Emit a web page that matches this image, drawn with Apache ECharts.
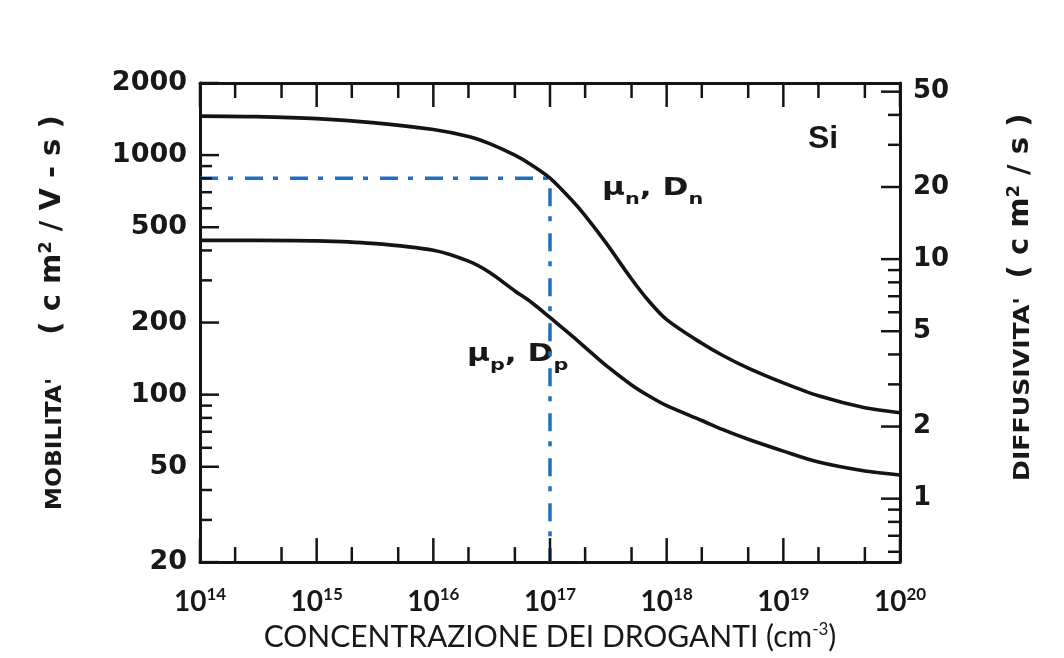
<!DOCTYPE html>
<html>
<head>
<meta charset="utf-8">
<script src="https://cdn.jsdelivr.net/npm/echarts@6/dist/echarts.min.js"></script>
<style>
html,body{margin:0;padding:0;background:#ffffff;}
#chart{width:1064px;height:658px;}
</style>
</head>
<body>
<div id="chart"></div>
<script>
// ---- data ----
const concentration = [1e14, 3e14, 1e15, 3e15, 1e16, 2e16, 3e16, 5e16, 7e16, 1e17, 1.5e17, 2e17, 3e17, 5e17, 7e17, 1e18, 2e18, 3e18, 5e18, 1e19, 2e19, 5e19, 1e20];
const muN = [1455, 1447, 1420, 1367, 1279, 1196, 1119, 999, 908, 802, 657, 559, 432, 304, 246.5, 205.8, 163.8, 146.1, 129.1, 112, 98.9, 88.2, 84.1];
const muP = [440.6, 440.6, 438.5, 428, 400.6, 360.8, 325, 271, 242, 210, 178, 157.6, 132.8, 109.8, 98.9, 89.9, 78.0, 71.6, 65.1, 58.1, 52.3, 48.0, 46.2];

// guide (dash-dot) at N = 1e17, mu = 800
const guideConcentration = [1e17];
const guideMobility = [800];

// axis ranges
const concRange = [1e14, 1e20];
const muRange = [20, 2000];
const muPerD = 36.8; // mobility / diffusivity ratio of the right scale
const dRange = [muRange[0] / muPerD, muRange[1] / muPerD];

// tick labels and tick marks
const muLabels = [20, 50, 100, 200, 500, 1000, 2000];
const muMinor = [30, 40, 60, 70, 80, 90, 300, 400, 600, 700, 800, 900];
const dLabels = [1, 2, 5, 10, 20, 50];
const dMinor = [0.6, 0.7, 0.8, 0.9, 3, 4, 6, 7, 8, 9, 30, 40];
const concMajor = [1e14, 1e15, 1e16, 1e17, 1e18, 1e19, 1e20];
const concMinor = [2e14, 5e14, 2e15, 5e15, 2e16, 5e16, 2e17, 5e17, 2e18, 5e18, 2e19, 5e19];

// ---- chart ----
const chart = echarts.init(document.getElementById('chart'));
const INK = '#141414';
const TXT = '#181818';

function tickSeries(data, yAxisIndex, dx, dy, majorLen, minorLen) {
  return {
    type: 'custom', xAxisIndex: 0, yAxisIndex: yAxisIndex, silent: true, z: 6, clip: false,
    animation: false,
    data: data,
    renderItem: function (params, api) {
      const p = api.coord([api.value(0), api.value(1)]);
      const len = api.value(2) ? majorLen : minorLen;
      return {
        type: 'line',
        shape: { x1: p[0], y1: p[1], x2: p[0] + dx * len, y2: p[1] + dy * len },
        style: { stroke: INK, lineWidth: 2.5 }
      };
    }
  };
}

const bottomTicks = concMajor.map(v => [v, muRange[0], 1]).concat(concMinor.map(v => [v, muRange[0], 0]));
const topTicks = concMajor.map(v => [v, muRange[1], 1]).concat(concMinor.map(v => [v, muRange[1], 0]));
const leftTicks = muLabels.map(v => [concRange[0], v, 1]).concat(muMinor.map(v => [concRange[0], v, 0]));
const rightTicks = dLabels.map(v => [concRange[1], v, 1]).concat(dMinor.map(v => [concRange[1], v, 0]));

const guideData = [
  [concRange[0], guideMobility[0]],
  [guideConcentration[0], guideMobility[0]],
  [guideConcentration[0], muRange[0]]
];

function fmtNum(v) {
  return String(Number(Number(v).toPrecision(3)));
}

const subRich = {
  m: { fontFamily: 'DejaVu Sans', fontWeight: 'bold', fontSize: 24, lineHeight: 25, verticalAlign: 'top', fill: TXT },
  s: { fontFamily: 'DejaVu Sans', fontWeight: 'bold', fontSize: 16, lineHeight: 31, verticalAlign: 'bottom', fill: TXT }
};

const option = {
  backgroundColor: '#ffffff',
  animation: false,
  grid: { left: 200, right: 164, top: 83, bottom: 91, containLabel: false },
  xAxis: [
    {
      type: 'log', logBase: 10, min: concRange[0], max: concRange[1], position: 'bottom',
      axisLine: { show: true, lineStyle: { color: INK, width: 3 } },
      axisTick: { show: false },
      splitLine: { show: false },
      axisLabel: {
        margin: 24,
        formatter: function (v) { return '{b|10}{s|' + Math.round(Math.log10(v)) + '}'; },
        rich: {
          b: { fontFamily: 'Lato', fontWeight: 'bold', fontSize: 28, color: TXT, lineHeight: 30, verticalAlign: 'bottom' },
          s: { fontFamily: 'Lato', fontWeight: 'bold', fontSize: 17, color: TXT, lineHeight: 18, verticalAlign: 'top' }
        }
      },
      name: 'CONCENTRAZIONE DEI DROGANTI (cm{s|-3})',
      nameLocation: 'middle',
      nameGap: 70,
      nameTextStyle: {
        fontFamily: 'Lato', fontSize: 30, color: TXT, lineHeight: 32, verticalAlign: 'bottom',
        rich: {
          s: { fontFamily: 'Lato', fontSize: 17, color: TXT, lineHeight: 17, verticalAlign: 'top' }
        }
      }
    },
    {
      type: 'log', logBase: 10, min: concRange[0], max: concRange[1], position: 'top',
      axisLine: { show: true, lineStyle: { color: INK, width: 3 } },
      axisTick: { show: false }, axisLabel: { show: false }, splitLine: { show: false }
    }
  ],
  yAxis: [
    {
      type: 'log', logBase: 10, min: muRange[0], max: muRange[1], position: 'left',
      axisLine: { show: true, lineStyle: { color: INK, width: 3 } },
      axisTick: { show: false },
      splitLine: { show: false },
      axisLabel: {
        customValues: muLabels,
        margin: 13,
        fontFamily: 'DejaVu Sans', fontWeight: 'bold', fontSize: 27, color: TXT,
        formatter: fmtNum
      }
    },
    {
      type: 'log', logBase: 10, min: dRange[0], max: dRange[1], position: 'right',
      axisLine: { show: true, lineStyle: { color: INK, width: 3 } },
      axisTick: { show: false },
      splitLine: { show: false },
      axisLabel: {
        customValues: dLabels,
        margin: 13,
        fontFamily: 'DejaVu Sans', fontWeight: 'bold', fontSize: 26, color: TXT,
        formatter: fmtNum
      }
    }
  ],
  series: [
    {
      name: 'mu_n', type: 'line', xAxisIndex: 0, yAxisIndex: 0,
      data: concentration.map((c, i) => [c, muN[i]]),
      smooth: 0.3, showSymbol: false, silent: true, z: 4,
      lineStyle: { color: INK, width: 3.6 }
    },
    {
      name: 'mu_p', type: 'line', xAxisIndex: 0, yAxisIndex: 0,
      data: concentration.map((c, i) => [c, muP[i]]),
      smooth: 0.3, showSymbol: false, silent: true, z: 4,
      lineStyle: { color: INK, width: 3.6 }
    },
    {
      name: 'guide', type: 'line', xAxisIndex: 0, yAxisIndex: 0,
      data: guideData, showSymbol: false, silent: true, z: 3,
      lineStyle: { color: '#1c6fc2', width: 3.5, type: [18, 10, 5, 12] }
    },
    tickSeries(bottomTicks, 0, 0, -1, 24, 15),
    tickSeries(topTicks, 0, 0, 1, 24, 15),
    tickSeries(leftTicks, 0, 1, 0, 19, 12),
    tickSeries(rightTicks, 1, -1, 0, 19, 12)
  ],
  graphic: [
    {
      type: 'text', x: 52, y: 225, rotation: Math.PI / 2,
      style: {
        text: '( c m{s|2} / V - s )', align: 'center', verticalAlign: 'middle',
        fontFamily: 'DejaVu Sans', fontWeight: 'bold', fontSize: 29, fill: TXT,
        rich: { s: { fontFamily: 'DejaVu Sans', fontWeight: 'bold', fontSize: 18, verticalAlign: 'top', lineHeight: 18, fill: TXT } }
      }
    },
    {
      type: 'text', x: 55, y: 444, rotation: Math.PI / 2, scaleX: 1.06,
      style: {
        text: "MOBILITA'", align: 'center', verticalAlign: 'middle',
        fontFamily: 'DejaVu Sans', fontWeight: 'bold', fontSize: 22, fill: TXT
      }
    },
    {
      type: 'text', x: 1020, y: 196, rotation: Math.PI / 2,
      style: {
        text: '( c m{s|2} / s )', align: 'center', verticalAlign: 'middle',
        fontFamily: 'DejaVu Sans', fontWeight: 'bold', fontSize: 29, fill: TXT,
        rich: { s: { fontFamily: 'DejaVu Sans', fontWeight: 'bold', fontSize: 18, verticalAlign: 'top', lineHeight: 18, fill: TXT } }
      }
    },
    {
      type: 'text', x: 1024, y: 389, rotation: Math.PI / 2, scaleX: 1.2,
      style: {
        text: "DIFFUSIVITA'", align: 'center', verticalAlign: 'middle',
        fontFamily: 'DejaVu Sans', fontWeight: 'bold', fontSize: 21, fill: TXT
      }
    },
    {
      type: 'text', x: 808, y: 139,
      style: {
        text: 'Si', align: 'left', verticalAlign: 'middle',
        fontFamily: 'Liberation Sans', fontWeight: 'bold', fontSize: 32, fill: TXT
      }
    },
    {
      type: 'text', x: 602, y: 192, scaleX: 1.3,
      style: { text: '{m|μ}{s|n}{m|, D}{s|n}', align: 'left', verticalAlign: 'middle', rich: subRich }
    },
    {
      type: 'text', x: 467, y: 358, scaleX: 1.3,
      style: { text: '{m|μ}{s|p}{m|, D}{s|p}', align: 'left', verticalAlign: 'middle', rich: subRich }
    }
  ]
};
chart.setOption(option);
</script>
</body>
</html>
